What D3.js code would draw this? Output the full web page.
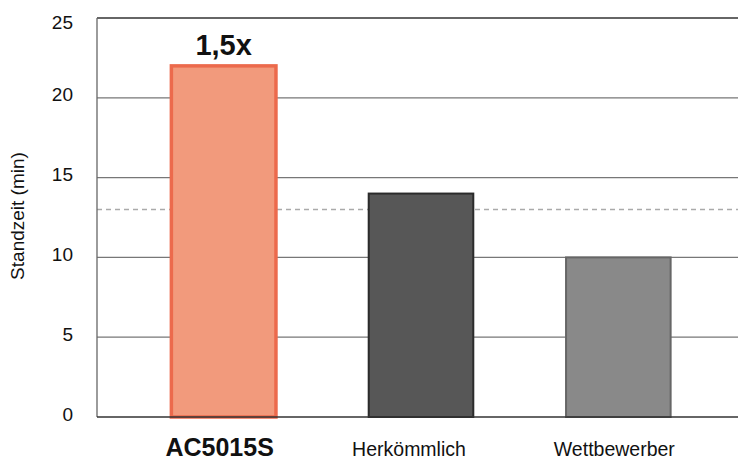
<!DOCTYPE html>
<html><head><meta charset="utf-8">
<script src="https://cdn.jsdelivr.net/npm/d3@7/dist/d3.min.js"></script>
<style>body{margin:0;background:#fff}svg{display:block;font-family:"Liberation Sans",Arial,sans-serif}</style>
</head><body>
<svg id="c" width="738" height="459"></svg>
<script>
const categories = ["AC5015S", "Herkömmlich", "Wettbewerber"];
const values = [22, 14, 10];
const yTicks = [0, 5, 10, 15, 20, 25];
const referenceValue = 13;
const annotation = "1,5x";
const yTitle = "Standzeit (min)";

const fills = ["#F29A7C", "#575757", "#898989"];
const strokes = ["#EC6A4C", "#2b2b2b", "#666666"];

(function () {
const svg = d3.select("#c");
const pLeft = 97, pRight = 738, pTop = 18, pBottom = 417;
const y = d3.scaleLinear().domain([0, 25]).range([pBottom, pTop]);
const x = d3.scaleBand().domain(categories).range([125, 717]).paddingInner(0.47).paddingOuter(0.235);

svg.append("g").selectAll("line").data(yTicks.filter(d => d > 0)).join("line")
  .attr("x1", pLeft).attr("x2", pRight)
  .attr("y1", d => y(d)).attr("y2", d => y(d))
  .attr("stroke", d => d === 25 ? "#333" : "#777").attr("stroke-width", 1.3);

svg.append("line").attr("x1", pLeft).attr("x2", pRight)
  .attr("y1", y(referenceValue)).attr("y2", y(referenceValue))
  .attr("stroke", "#aaa").attr("stroke-width", 1.3).attr("stroke-dasharray", "5,4");

svg.append("g").selectAll("rect").data(values).join("rect")
  .attr("x", (d, i) => x(categories[i]))
  .attr("width", x.bandwidth())
  .attr("y", d => y(d))
  .attr("height", d => y(0) - y(d))
  .attr("fill", (d, i) => fills[i])
  .attr("stroke", (d, i) => strokes[i])
  .attr("stroke-width", (d, i) => i === 0 ? 3.5 : 2);

svg.append("line").attr("x1", pLeft).attr("x2", pLeft).attr("y1", pTop).attr("y2", pBottom)
  .attr("stroke", "#666").attr("stroke-width", 1.3);
svg.append("line").attr("x1", pLeft).attr("x2", pRight).attr("y1", pBottom).attr("y2", pBottom)
  .attr("stroke", "#333").attr("stroke-width", 1.5);

svg.append("g").selectAll("text").data(yTicks).join("text")
  .attr("x", 73).attr("y", d => d === 25 ? y(d) + 11 : y(d) + 3.5)
  .attr("text-anchor", "end").attr("font-size", 19).attr("fill", "#111")
  .text(d => d);

svg.append("text").attr("transform", `translate(24,216) rotate(-90)`)
  .attr("text-anchor", "middle").attr("font-size", 19).attr("fill", "#111").text(yTitle);

const labelDx = [-4, -12, -4];
svg.append("g").selectAll("text").data(categories).join("text")
  .attr("x", (d, i) => x(d) + x.bandwidth() / 2 + labelDx[i])
  .attr("y", 456)
  .attr("text-anchor", "middle")
  .attr("font-size", (d, i) => i === 0 ? 25 : 19.5)
  .attr("font-weight", (d, i) => i === 0 ? "bold" : "normal")
  .attr("fill", "#111").text(d => d);

svg.append("text").attr("x", x(categories[0]) + x.bandwidth() / 2).attr("y", y(values[0]) - 11)
  .attr("text-anchor", "middle").attr("font-size", 29).attr("font-weight", "bold").attr("fill", "#111")
  .text(annotation);
})();
</script>
</body></html>
